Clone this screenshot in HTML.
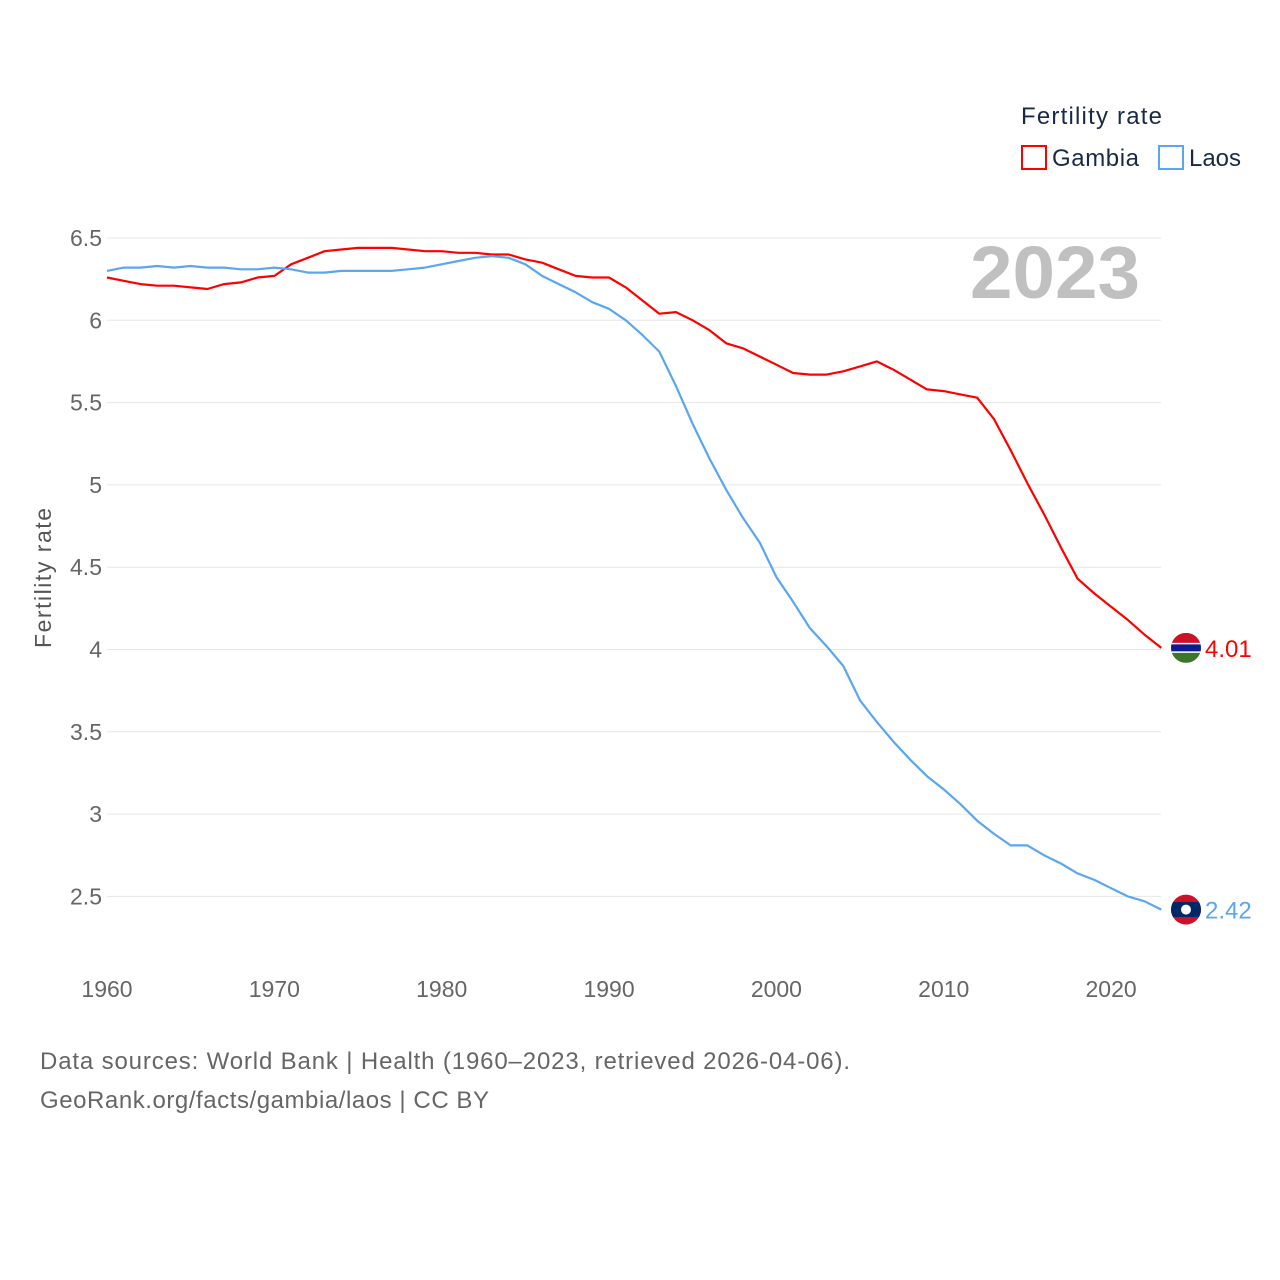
<!DOCTYPE html>
<html><head><meta charset="utf-8"><style>
body{margin:0;background:#fff;}
svg{display:block;font-family:"Liberation Sans",sans-serif;}
</style></head><body>
<svg id="chart" width="1280" height="1280" viewBox="0 0 1280 1280">
<g id="grid"></g>
<g id="yticks"></g>
<g id="xticks"></g>
<text x="970" y="298" textLength="170" lengthAdjust="spacingAndGlyphs" font-size="74" font-weight="bold" fill="#c0c0c0">2023</text>
<text x="51" y="578" transform="rotate(-90 51 578)" text-anchor="middle" textLength="140" font-size="23" fill="#555">Fertility rate</text>
<g>
<text x="1021" y="124" textLength="141" font-size="24" fill="#1a2a44">Fertility rate</text>
<g><rect x="1022" y="146" width="24" height="23" fill="none" stroke="#ff0000" stroke-width="2"/><text x="1052" y="166" textLength="87" font-size="24" fill="#1a2a44">Gambia</text></g>
<g><rect x="1159" y="146" width="24" height="23" fill="none" stroke="#5aa6ef" stroke-width="2"/><text x="1189" y="166" textLength="52" font-size="24" fill="#1a2a44">Laos</text></g>
</g>
<g id="series"></g>
<text x="40" y="1069" textLength="810" font-size="24" fill="#666">Data sources: World Bank | Health (1960–2023, retrieved 2026-04-06).</text>
<text x="40" y="1108" textLength="449" font-size="24" fill="#666">GeoRank.org/facts/gambia/laos | CC BY</text>
</svg>
<script>
const years=[];for(let y=1960;y<=2023;y++)years.push(y);
const gambia=[6.26,6.24,6.22,6.21,6.21,6.20,6.19,6.22,6.23,6.26,6.27,6.34,6.38,6.42,6.43,6.44,6.44,6.44,6.43,6.42,6.42,6.41,6.41,6.40,6.40,6.37,6.35,6.31,6.27,6.26,6.26,6.20,6.12,6.04,6.05,6.00,5.94,5.86,5.83,5.78,5.73,5.68,5.67,5.67,5.69,5.72,5.75,5.70,5.64,5.58,5.57,5.55,5.53,5.40,5.21,5.01,4.82,4.62,4.43,4.34,4.26,4.18,4.09,4.01];
const laos=[6.30,6.32,6.32,6.33,6.32,6.33,6.32,6.32,6.31,6.31,6.32,6.31,6.29,6.29,6.30,6.30,6.30,6.30,6.31,6.32,6.34,6.36,6.38,6.39,6.38,6.34,6.27,6.22,6.17,6.11,6.07,6.00,5.91,5.81,5.60,5.37,5.16,4.97,4.80,4.65,4.44,4.29,4.13,4.02,3.90,3.69,3.56,3.44,3.33,3.23,3.15,3.06,2.96,2.88,2.81,2.81,2.75,2.70,2.64,2.60,2.55,2.50,2.47,2.42];
const yTicks=[2.5,3,3.5,4,4.5,5,5.5,6,6.5];
const yTickLabels=["2.5","3","3.5","4","4.5","5","5.5","6","6.5"];
const xTicks=[1960,1970,1980,1990,2000,2010,2020];
const NS="http://www.w3.org/2000/svg";
const X=y=>107+(y-1960)*16.735;
const Y=v=>238+(6.5-v)*164.6;
function mk(t,a,p){const e=document.createElementNS(NS,t);for(const k in a)e.setAttribute(k,a[k]);p.appendChild(e);return e;}
const grid=document.getElementById('grid'),yt=document.getElementById('yticks'),xt=document.getElementById('xticks'),ser=document.getElementById('series');
yTicks.forEach((v,i)=>{
 const l=mk('line',{x1:107,x2:1161,y1:Y(v),y2:Y(v),stroke:'#e6e6e6','stroke-width':1},grid);
 
 
 const t=mk('text',{x:102,y:Y(v)+8,'text-anchor':'end','font-size':23,fill:'#666'},yt);
 t.textContent=yTickLabels[i];
 
 
});
xTicks.forEach(v=>{
 const t=mk('text',{x:X(v),y:997,'text-anchor':'middle','font-size':23,fill:'#666'},xt);
 t.textContent=v;
 
 
});
function line(data,color,name){
 const d=data.map((v,i)=>(i?'L':'M')+X(years[i]).toFixed(1)+','+Y(v).toFixed(1)).join('');
 const p=mk('path',{d:d,fill:'none',stroke:color,'stroke-width':2.2,'stroke-linejoin':'round'},ser);
 
 
}
line(gambia,'#ff0000','gambia-line');
line(laos,'#5aa6ef','laos-line');
const gv=gambia[gambia.length-1],lv=laos[laos.length-1];
let cx=1186,cy=Y(gv);
const gf=mk('g',{},ser);


const cg=mk('clipPath',{id:'cg'},gf);mk('circle',{cx:cx,cy:cy,r:15},cg);
const gg=mk('g',{'clip-path':'url(#cg)'},gf);
mk('rect',{x:cx-15,y:cy-15,width:30,height:11,fill:'#ce1126'},gg);
mk('rect',{x:cx-15,y:cy-4,width:30,height:8,fill:'#0c1c8c'},gg);
mk('rect',{x:cx-15,y:cy-5,width:30,height:1.5,fill:'#fff'},gg);
mk('rect',{x:cx-15,y:cy+3.5,width:30,height:1.5,fill:'#fff'},gg);
mk('rect',{x:cx-15,y:cy+5,width:30,height:10,fill:'#3a7728'},gg);
const gl=mk('text',{x:1205,y:cy+9,'font-size':24,fill:'#ff0000'},ser);gl.textContent=gv.toFixed(2);


cy=Y(lv);
const lf=mk('g',{},ser);


const cl=mk('clipPath',{id:'cl'},lf);mk('circle',{cx:cx,cy:cy,r:15},cl);
const lg=mk('g',{'clip-path':'url(#cl)'},lf);
mk('rect',{x:cx-15,y:cy-15,width:30,height:30,fill:'#ce1126'},lg);
mk('rect',{x:cx-15,y:cy-7.5,width:30,height:15,fill:'#002868'},lg);
mk('circle',{cx:cx,cy:cy,r:5,fill:'#fff'},lg);
const ll=mk('text',{x:1205,y:cy+9,'font-size':24,fill:'#5aa6ef'},ser);ll.textContent=lv.toFixed(2);


</script>
</body></html>
